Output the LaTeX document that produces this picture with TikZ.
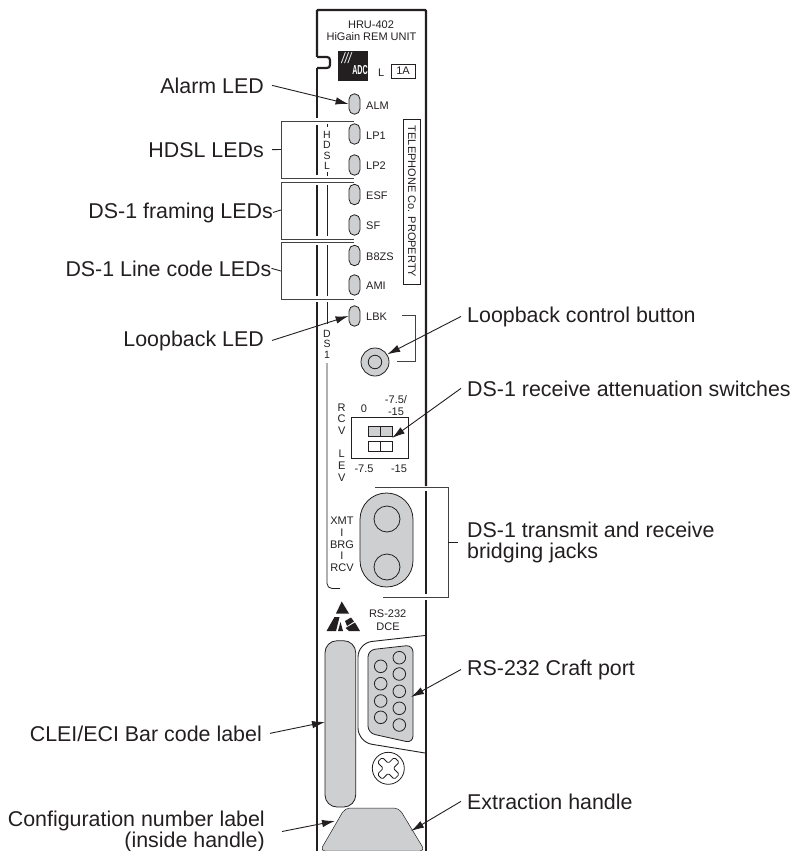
\documentclass[tikz,border=0pt]{standalone}
\usepackage{fontspec}
\setmainfont{Liberation Sans}
\usetikzlibrary{arrows.meta,shapes.misc}
\definecolor{inkblack}{RGB}{35,31,32}
\definecolor{panelgray}{RGB}{205,207,209}
\begin{document}
\begin{tikzpicture}[
      x=1pt, y=-1pt, inkblack, text=inkblack,
      rimline/.style={line width=2.2pt, line cap=butt},
      thinrule/.style={line width=0.8pt},
      bracketline/.style={line width=0.9pt, draw=inkblack!85},
      callout/.style={line width=0.9pt, -{Latex[length=13pt,width=7.5pt]}},
      stubline/.style={line width=0.9pt},
      lefttext/.style={anchor=base east, inner xsep=8pt, inner ysep=0pt, font=\fontsize{21.4}{22}\selectfont},
      righttext/.style={anchor=base west, inner xsep=6pt, inner ysep=0pt, font=\fontsize{21.4}{22}\selectfont},
      ledlamp/.style={rounded rectangle, draw, line width=0.8pt, fill=panelgray, rotate=90, minimum width=20.5pt, minimum height=11pt, inner sep=0pt},
      ledtext/.style={anchor=west, inner sep=0pt, font=\fontsize{11}{11.7}\selectfont},
      tinytext/.style={inner sep=0pt, align=center, font=\fontsize{11}{11.7}\selectfont},
      pinhole/.style={circle, draw, line width=0.8pt, minimum size=12.6pt, inner sep=0pt}
    ]
      \useasboundingbox (0,0) rectangle (792,851);

      \draw[rimline, rounded corners=1pt] (317,57) -- (317,10) -- (426,10) -- (426,486);
      \draw[rimline, rounded corners=3pt] (317,57) -- (330,57) -- (330,68) -- (317,68);
      \draw[rimline] (317,68) -- (317,118);
      \draw[rimline] (317,125) -- (317,175);
      \draw[rimline] (317,185) -- (317,236);
      \draw[rimline] (317,245) -- (317,296);
      \draw[rimline] (317,302) -- (317,851);
      \draw[rimline] (426,491) -- (426,594);
      \draw[rimline] (426,600) -- (426,851);

      \draw[thinrule] (327,123.5) -- (327,127);
      \draw[thinrule] (327,172) -- (327,176);
      \draw[thinrule] (327,185) -- (327,236);
      \draw[thinrule] (327,245) -- (327,296);
      \draw[thinrule] (327,302) -- (327,324);
      \draw[thinrule, rounded corners=5pt] (327,363) -- (327,588.5) -- (340,588.5);

      \node[tinytext] (model) at (371,25) {HRU-402};
      \node[tinytext] (unitname) at (371.5,37) {HiGain REM UNIT};

      \node[fill=inkblack, minimum width=30pt, minimum height=29pt, inner sep=0pt] (logo) at (353,66) {};
      \node[inner sep=0pt, text=white, font=\bfseries\fontsize{13}{13}\selectfont] (logotext) at (360,70.5) {\addfontfeature{FakeStretch=0.55}ADC};
      \node[inner sep=0pt, text=white, font=\itshape\fontsize{15}{15}\selectfont] (logoslash) at (346.5,58) {\addfontfeature{FakeStretch=0.8}///};

      \node[ledtext] (slotl) at (378,72.5) {L};
      \node[draw, line width=0.9pt, minimum width=24pt, minimum height=14pt, inner sep=0pt, font=\fontsize{11}{11}\selectfont] (slotbox) at (403,71) {1A};

      \node[draw, line width=0.8pt, rotate=-90, minimum width=165pt, minimum height=17.5pt, inner sep=0pt, font=\fontsize{11}{11}\selectfont] (property) at (412,201.5) {TELEPHONE Co. PROPERTY};

      \node[ledlamp] (almled) at (354.5,104) {};
      \node[ledlamp] (lponeled) at (354.5,134) {};
      \node[ledlamp] (lptwoled) at (354.5,165) {};
      \node[ledlamp] (esfled) at (354.5,194.5) {};
      \node[ledlamp] (sfled) at (354.5,225) {};
      \node[ledlamp] (beightled) at (354.5,255.5) {};
      \node[ledlamp] (amiled) at (354.5,285) {};
      \node[ledlamp] (lbkled) at (354.5,316) {};

      \node[ledtext] (almtext) at (366,106) {ALM};
      \node[ledtext] (lponetext) at (366,136) {LP1};
      \node[ledtext] (lptwotext) at (366,166) {LP2};
      \node[ledtext] (esftext) at (366,195.5) {ESF};
      \node[ledtext] (sftext) at (366,225.5) {SF};
      \node[ledtext] (beighttext) at (366,256.5) {B8ZS};
      \node[ledtext] (amitext) at (366,285.5) {AMI};
      \node[ledtext] (lbktext) at (366,316.5) {LBK};

      \node[tinytext, font=\fontsize{10.5}{10.3}\selectfont] (hdslside) at (327,150.5) {H\\D\\S\\L};
      \node[tinytext, font=\fontsize{10.5}{10.5}\selectfont] (dsoneside) at (327,344) {D\\S\\1};

      \draw[bracketline] (354,121) -- (281,121) -- (281,178) -- (354,178);
      \draw[bracketline] (354,182) -- (281,182) -- (281,239) -- (354,239);
      \draw[bracketline] (354,242) -- (281,242) -- (281,299) -- (354,299);
      \draw[bracketline] (402,315.7) -- (415.7,315.7) -- (415.7,361) -- (397,361);
      \coordinate (hdslbrk) at (281,149.5);
      \coordinate (framebrk) at (281,210);
      \coordinate (codebrk) at (281,271);

      \node[circle, draw, line width=0.8pt, fill=panelgray, minimum size=28pt, inner sep=0pt] (lbkbutton) at (375,362) {};
      \node[circle, draw, line width=0.8pt, minimum size=13.5pt, inner sep=0pt] (lbkcap) at (375,362) {};

      \node[tinytext] (rcvtext) at (341.7,419) {R\\C\\V};
      \node[tinytext, font=\fontsize{11}{12}\selectfont] (levtext) at (341.7,466) {L\\E\\V};
      \node[tinytext] (zerotext) at (364,409) {0};
      \node[tinytext, font=\fontsize{11}{12}\selectfont] (atttop) at (396,406) {-7.5/\\-15};
      \node[draw, line width=0.9pt, minimum width=57pt, minimum height=41pt, inner sep=0pt] (swbox) at (379.5,437.5) {};
      \node[draw, line width=0.9pt, fill=panelgray, minimum width=12pt, minimum height=10pt, inner sep=0pt] (swa) at (374,431) {};
      \node[draw, line width=0.9pt, fill=panelgray, minimum width=12pt, minimum height=10pt, inner sep=0pt] (swb) at (386,431) {};
      \node[draw, line width=0.9pt, minimum width=12pt, minimum height=10pt, inner sep=0pt] (swc) at (374,446) {};
      \node[draw, line width=0.9pt, minimum width=12pt, minimum height=10pt, inner sep=0pt] (swd) at (386,446) {};
      \coordinate (swtip) at (392,438);
      \node[tinytext] (attleft) at (364,469) {-7.5};
      \node[tinytext] (attright) at (399,469) {-15};

      \node[rounded rectangle, draw, line width=0.8pt, fill=panelgray, rotate=90, minimum width=94pt, minimum height=53pt, inner sep=0pt] (jackbody) at (386.5,540) {};
      \node[circle, draw, line width=0.8pt, minimum size=26pt, inner sep=0pt] (jacktop) at (387,519) {};
      \node[circle, draw, line width=0.8pt, minimum size=26pt, inner sep=0pt] (jackbottom) at (387,567) {};
      \node[tinytext] (xmttext) at (342,544.5) {XMT\\I\\BRG\\I\\RCV};

      \draw[bracketline] (375,487) -- (448,487) -- (448,597) -- (383,597);
      \coordinate (jackbrk) at (448,542.5);

      \fill (341.7,601.5) -- (349,613.5) -- (336,613.5) -- cycle;
      \fill (326.5,631) -- (334.5,617) -- (339.5,617) -- (336,631) -- cycle;
      \fill (338,631) -- (340.5,622) -- (343,631) -- cycle;
      \fill (345,621) -- (351,617.5) -- (354,621.5) -- (347,626) -- cycle;
      \fill (345.5,628) -- (355,622.5) -- (360,631) -- (349,631) -- cycle;
      \node[tinytext] (rstext) at (387.7,614) {RS-232};
      \node[tinytext] (dcetext) at (388,627) {DCE};

      \draw[thinrule, line width=0.9pt, rounded corners=14pt] (425,635.5) -- (358,643) -- (358,742) -- (425,753);
      \draw[line width=0.8pt, fill=panelgray, rounded corners=7pt] (368,650) -- (413,645) -- (413,743) -- (368,733) -- cycle;
      \coordinate (dbtip) at (411,697);
      \node[pinhole] (pina) at (380.7,666.3) {};
      \node[pinhole] (pinb) at (380.7,683.7) {};
      \node[pinhole] (pinc) at (380.7,701) {};
      \node[pinhole] (pind) at (380.7,717.3) {};
      \node[pinhole] (pine) at (399.3,657.7) {};
      \node[pinhole] (pinf) at (399.3,674) {};
      \node[pinhole] (ping) at (399.3,691.3) {};
      \node[pinhole] (pinh) at (399.3,708.3) {};
      \node[pinhole] (pini) at (399.3,725) {};

      \node[circle, draw, line width=0.8pt, minimum size=32pt, inner sep=0pt] (screw) at (388.3,768.3) {};
      \draw[line width=0.8pt, rounded corners=1.5pt, shift={(388.3,768.3)}, rotate=45]
        (-3.5,-3.5) -- (-3.5,-12) -- (3.5,-12) -- (3.5,-3.5) -- (12,-3.5) -- (12,3.5) -- (3.5,3.5) -- (3.5,12) -- (-3.5,12) -- (-3.5,3.5) -- (-12,3.5) -- (-12,-3.5) -- cycle;

      \draw[line width=0.8pt, fill=panelgray, rounded corners=12pt] (325,640.7) rectangle (355.7,807);
      \coordinate (barcodetip) at (325,722);
      \draw[line width=0.5pt, fill=panelgray, rounded corners=5pt] (320,851) -- (345,808) -- (399,808) -- (425,851) -- cycle;
      \coordinate (cfgtip) at (335,821);
      \coordinate (handletip) at (411,831);

      \node[lefttext] (alarmlabel) at (272,93) {Alarm LED};
      \node[lefttext] (hdsllabel) at (272,157) {HDSL LEDs};
      \node[lefttext, inner xsep=0pt] (framelabel) at (273,218) {DS-1 framing LEDs};
      \node[lefttext, inner xsep=0pt] (codelabel) at (271.5,276) {DS-1 Line code LEDs};
      \node[lefttext] (lbklabel) at (272,346) {Loopback LED};
      \node[lefttext] (barcodelabel) at (270,741) {CLEI/ECI Bar code label};
      \node[anchor=east, inner xsep=17pt, inner ysep=0pt, align=right, font=\fontsize{21.4}{21}\selectfont] (cfglabel) at (282,831.5) {Configuration number label\\(inside handle)};

      \node[righttext] (buttonlabel) at (461,322) {Loopback control button};
      \node[righttext] (attlabel) at (461,396) {DS-1 receive attenuation switches};
      \node[anchor=west, inner xsep=9pt, inner ysep=0pt, align=left, font=\fontsize{21.4}{21.5}\selectfont] (jacklabel) at (458,542.5) {DS-1 transmit and receive\\bridging jacks};
      \node[righttext] (craftlabel) at (461,675) {RS-232 Craft port};
      \node[righttext] (handlelabel) at (461,809) {Extraction handle};

      \draw[callout] (alarmlabel.east) -- (almled.north);
      \draw[callout] (lbklabel.east) -- (lbkled.north);
      \draw[stubline] (hdsllabel.east) -- (hdslbrk);
      \draw[stubline] (framelabel.east) -- (framebrk);
      \draw[stubline] (codelabel.east) -- (codebrk);
      \draw[callout] (buttonlabel.west) -- (lbkbutton.32);
      \draw[callout] (attlabel.west) -- (swtip);
      \draw[stubline] (jacklabel.west) -- (jackbrk);
      \draw[callout] (craftlabel.west) -- (dbtip);
      \draw[callout] (handlelabel.west) -- (handletip);
      \draw[callout] (barcodelabel.east) -- (barcodetip);
      \draw[callout] (cfglabel.east) -- (cfgtip);
    \end{tikzpicture}
\end{document}
